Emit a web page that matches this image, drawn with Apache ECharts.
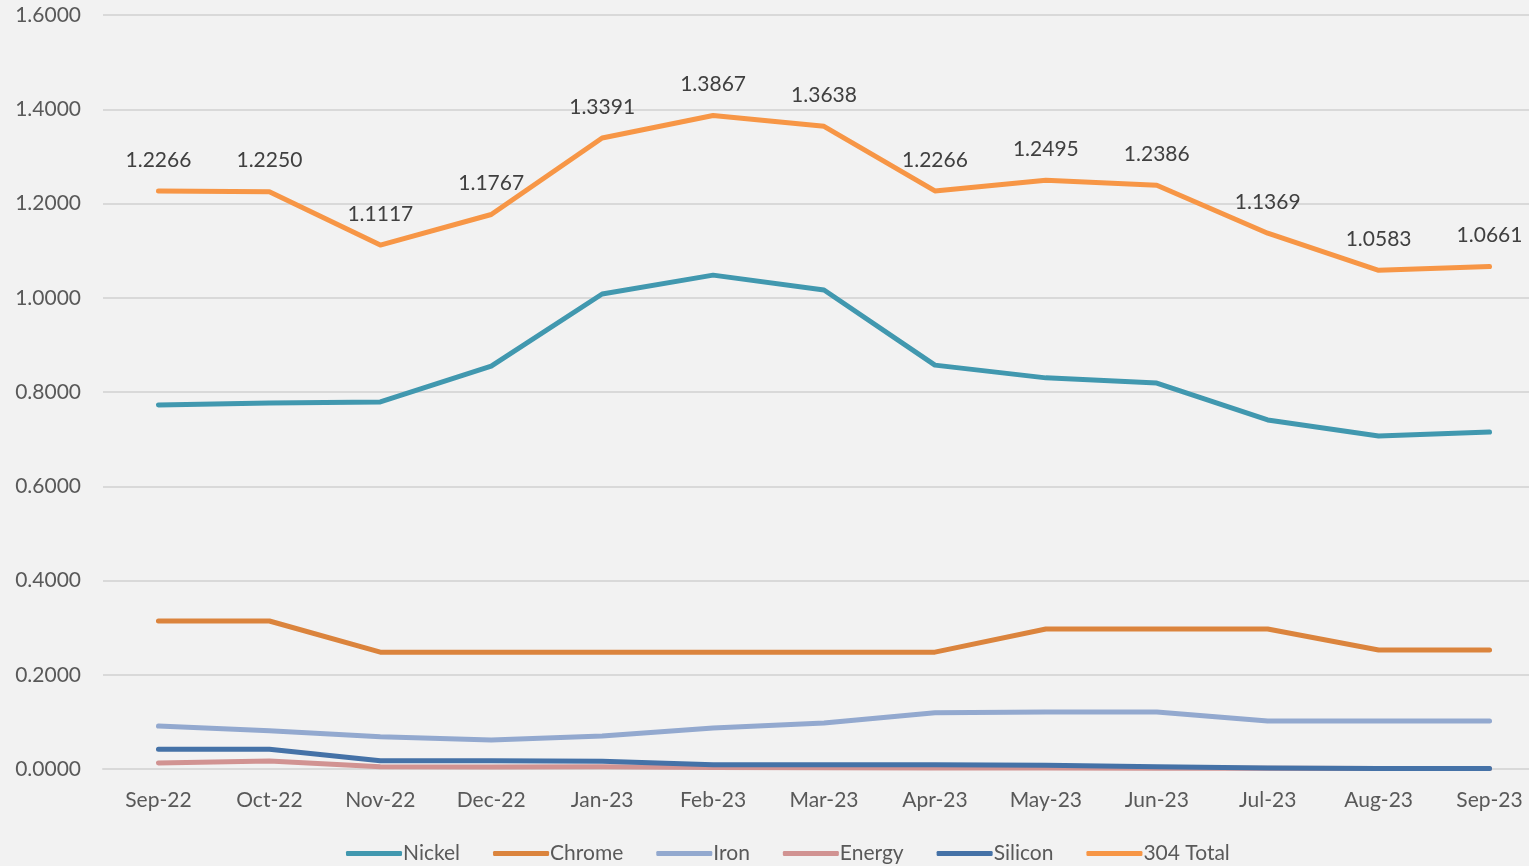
<!DOCTYPE html>
<html>
<head>
<meta charset="utf-8">
<script src="https://cdn.jsdelivr.net/npm/echarts@6/dist/echarts.min.js"></script>
<style>
    html, body { margin: 0; padding: 0; background: #f2f2f2; overflow: hidden; }
    #chart { width: 1545px; height: 866px; }
</style>
</head>
<body>
<div id="chart"></div>
<script>
    var months = ['Sep-22', 'Oct-22', 'Nov-22', 'Dec-22', 'Jan-23', 'Feb-23', 'Mar-23',
                  'Apr-23', 'May-23', 'Jun-23', 'Jul-23', 'Aug-23', 'Sep-23'];

    var nickel  = [0.7724, 0.7767, 0.7788, 0.8550, 1.0080, 1.0480, 1.0164, 0.8570, 0.8300, 0.8190, 0.7406, 0.7066, 0.7150];
    var chrome  = [0.3140, 0.3140, 0.2480, 0.2480, 0.2480, 0.2480, 0.2480, 0.2480, 0.2970, 0.2970, 0.2970, 0.2525, 0.2525];
    var iron    = [0.0912, 0.0810, 0.0686, 0.0615, 0.0700, 0.0870, 0.0976, 0.1195, 0.1210, 0.1210, 0.1019, 0.1019, 0.1019];
    var energy  = [0.0127, 0.0170, 0.0050, 0.0040, 0.0050, 0.0030, 0.0025, 0.0022, 0.0020, 0.0018, 0.0015, 0.0012, 0.0010];
    var silicon = [0.0417, 0.0417, 0.0177, 0.0177, 0.0165, 0.0090, 0.0090, 0.0090, 0.0080, 0.0050, 0.0020, 0.0010, 0.0010];
    var total   = [1.2266, 1.2250, 1.1117, 1.1767, 1.3391, 1.3867, 1.3638, 1.2266, 1.2495, 1.2386, 1.1369, 1.0583, 1.0661];

    var yTicks = { min: 0, max: 1.6, interval: 0.2 };

    var font = 'Lato, "Liberation Sans", sans-serif';

    function lineSeries(name, data, color) {
        return {
            name: name,
            type: 'line',
            data: data,
            symbol: 'none',
            color: color,
            lineStyle: { width: 5, color: color, cap: 'round', join: 'round' }
        };
    }

    var chart = echarts.init(document.getElementById('chart'));
    var totalSeries = lineSeries('304 Total', total, '#f79646');
    // tiny symbol so the labels get drawn; hidden under the 5px line
    totalSeries.symbol = 'circle';
    totalSeries.symbolSize = 1;
    totalSeries.showSymbol = true;
    totalSeries.itemStyle = { color: '#f79646' };
    totalSeries.label = {
        show: true,
        position: 'top',
        distance: 20,
        fontSize: 21,
        fontFamily: font,
        color: '#404040',
        formatter: function (p) { return p.value.toFixed(4); }
    };

    chart.setOption({
        backgroundColor: '#f2f2f2',
        animation: false,
        textStyle: { fontFamily: font },
        grid: { left: 103, right: 0, top: 15, bottom: 97 },
        legend: {
            bottom: -3,
            left: 341,
            icon: 'roundRect',
            itemWidth: 56,
            itemHeight: 5,
            itemGap: 33,
            textStyle: { fontSize: 21, color: '#595959', fontFamily: font, padding: [0, 0, 0, -4] },
            data: ['Nickel', 'Chrome', 'Iron', 'Energy', 'Silicon', '304 Total']
        },
        xAxis: {
            type: 'category',
            data: months,
            boundaryGap: true,
            axisLine: { lineStyle: { color: '#d9d9d9', width: 2 } },
            axisTick: { show: false },
            axisLabel: { fontSize: 21, color: '#595959', margin: 21, fontFamily: font }
        },
        yAxis: {
            type: 'value',
            min: yTicks.min,
            max: yTicks.max,
            interval: yTicks.interval,
            axisLine: { show: false },
            axisTick: { show: false },
            splitLine: { lineStyle: { color: '#d9d9d9', width: 2 } },
            axisLabel: {
                fontSize: 21, color: '#595959', margin: 22, align: 'right', fontFamily: font,
                formatter: function (v) { return v.toFixed(4); }
            }
        },
        series: [
            lineSeries('Nickel', nickel, '#4198af'),
            lineSeries('Chrome', chrome, '#db843d'),
            lineSeries('Iron', iron, '#93a9cf'),
            lineSeries('Energy', energy, '#d19392'),
            lineSeries('Silicon', silicon, '#4572a7'),
            totalSeries
        ]
    });
</script>
</body>
</html>
